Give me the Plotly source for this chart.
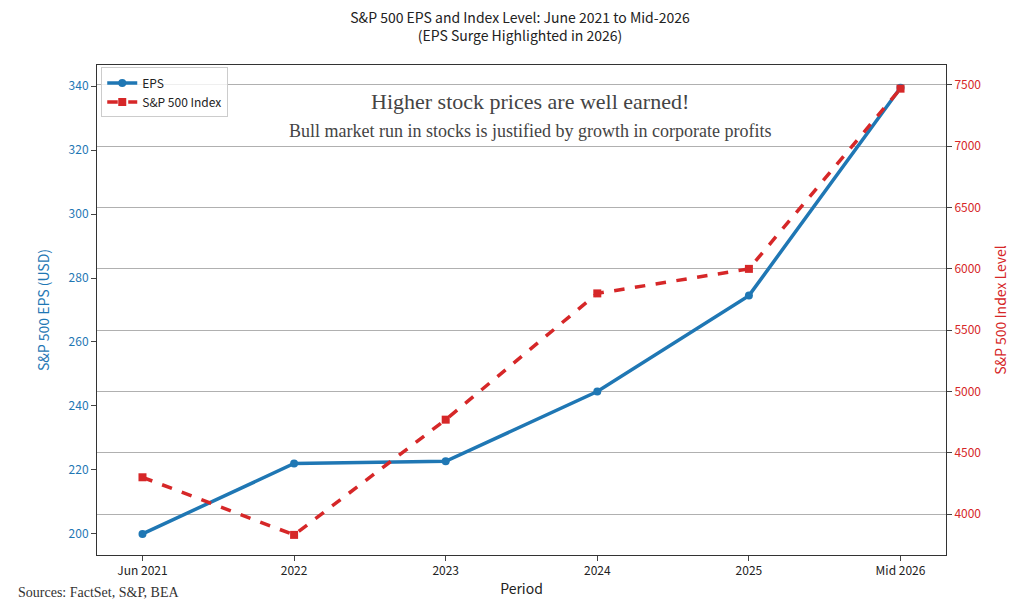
import plotly.graph_objects as go

periods = ["Jun 2021", "2022", "2023", "2024", "2025", "Mid 2026"]
eps = [200.0, 222.0, 222.7, 244.5, 274.5, 339.5]
index_level = [4300, 3830, 4770, 5800, 6000, 7470]

blue = "#1f77b4"
red = "#d62728"
font = "Noto Sans CJK SC, Noto Sans, sans-serif"

fig = go.Figure()
fig.add_trace(go.Scatter(x=periods, y=eps, name="EPS", mode="lines+markers",
                         line=dict(color=blue, width=3.5), marker=dict(size=8, color=blue)))
fig.add_trace(go.Scatter(x=periods, y=index_level, name="S&P 500 Index", mode="lines+markers",
                         yaxis="y2", line=dict(color=red, width=3.5, dash="dash"),
                         marker=dict(size=8, color=red, symbol="square")))

fig.update_layout(
    width=1024, height=606, paper_bgcolor="white", plot_bgcolor="white",
    font=dict(family=font, size=12, color="#222"),
    margin=dict(l=89, r=86, t=57, b=59),
    title=dict(text="S&P 500 EPS and Index Level: June 2021 to Mid-2026<br>(EPS Surge Highlighted in 2026)",
               x=0.5, xanchor="center", y=0.975, yanchor="top", font=dict(size=14)),
    xaxis=dict(title=dict(text="Period", standoff=6), showgrid=False, showline=True, linecolor="#333",
               mirror=True, ticks="outside", range=[-0.3, 5.3]),
    yaxis=dict(title=dict(text="S&P 500 EPS (USD)", font=dict(color=blue)), range=[193.4, 346.6],
               dtick=20, tickfont=dict(color=blue), showgrid=False, showline=True, linecolor="#333",
               ticks="outside", zeroline=False),
    yaxis2=dict(title=dict(text="S&P 500 Index Level", font=dict(color=red)), overlaying="y", side="right",
                range=[3666, 7663], dtick=500, tickfont=dict(color=red), showgrid=True,
                gridcolor="#b0b0b0", showline=True, linecolor="#333", ticks="outside", zeroline=False),
    legend=dict(x=0.005, y=0.995, xanchor="left", yanchor="top", bgcolor="rgba(255,255,255,0.8)",
                bordercolor="#ccc", borderwidth=1, font=dict(size=12)),
    annotations=[
        dict(text="Higher stock prices are well earned!", xref="paper", yref="paper", x=0.51, y=0.955,
             showarrow=False, font=dict(family="Liberation Serif, serif", size=22, color="#444")),
        dict(text="Bull market run in stocks is justified by growth in corporate profits", xref="paper",
             yref="paper", x=0.51, y=0.89, showarrow=False,
             font=dict(family="Liberation Serif, serif", size=18, color="#444")),
        dict(text="Sources: FactSet, S&P, BEA", xref="paper", yref="paper", x=-0.095, y=-0.095,
             xanchor="left", showarrow=False, font=dict(family="Liberation Serif, serif", size=14, color="#333")),
    ],
)
fig.write_html("out.html")
